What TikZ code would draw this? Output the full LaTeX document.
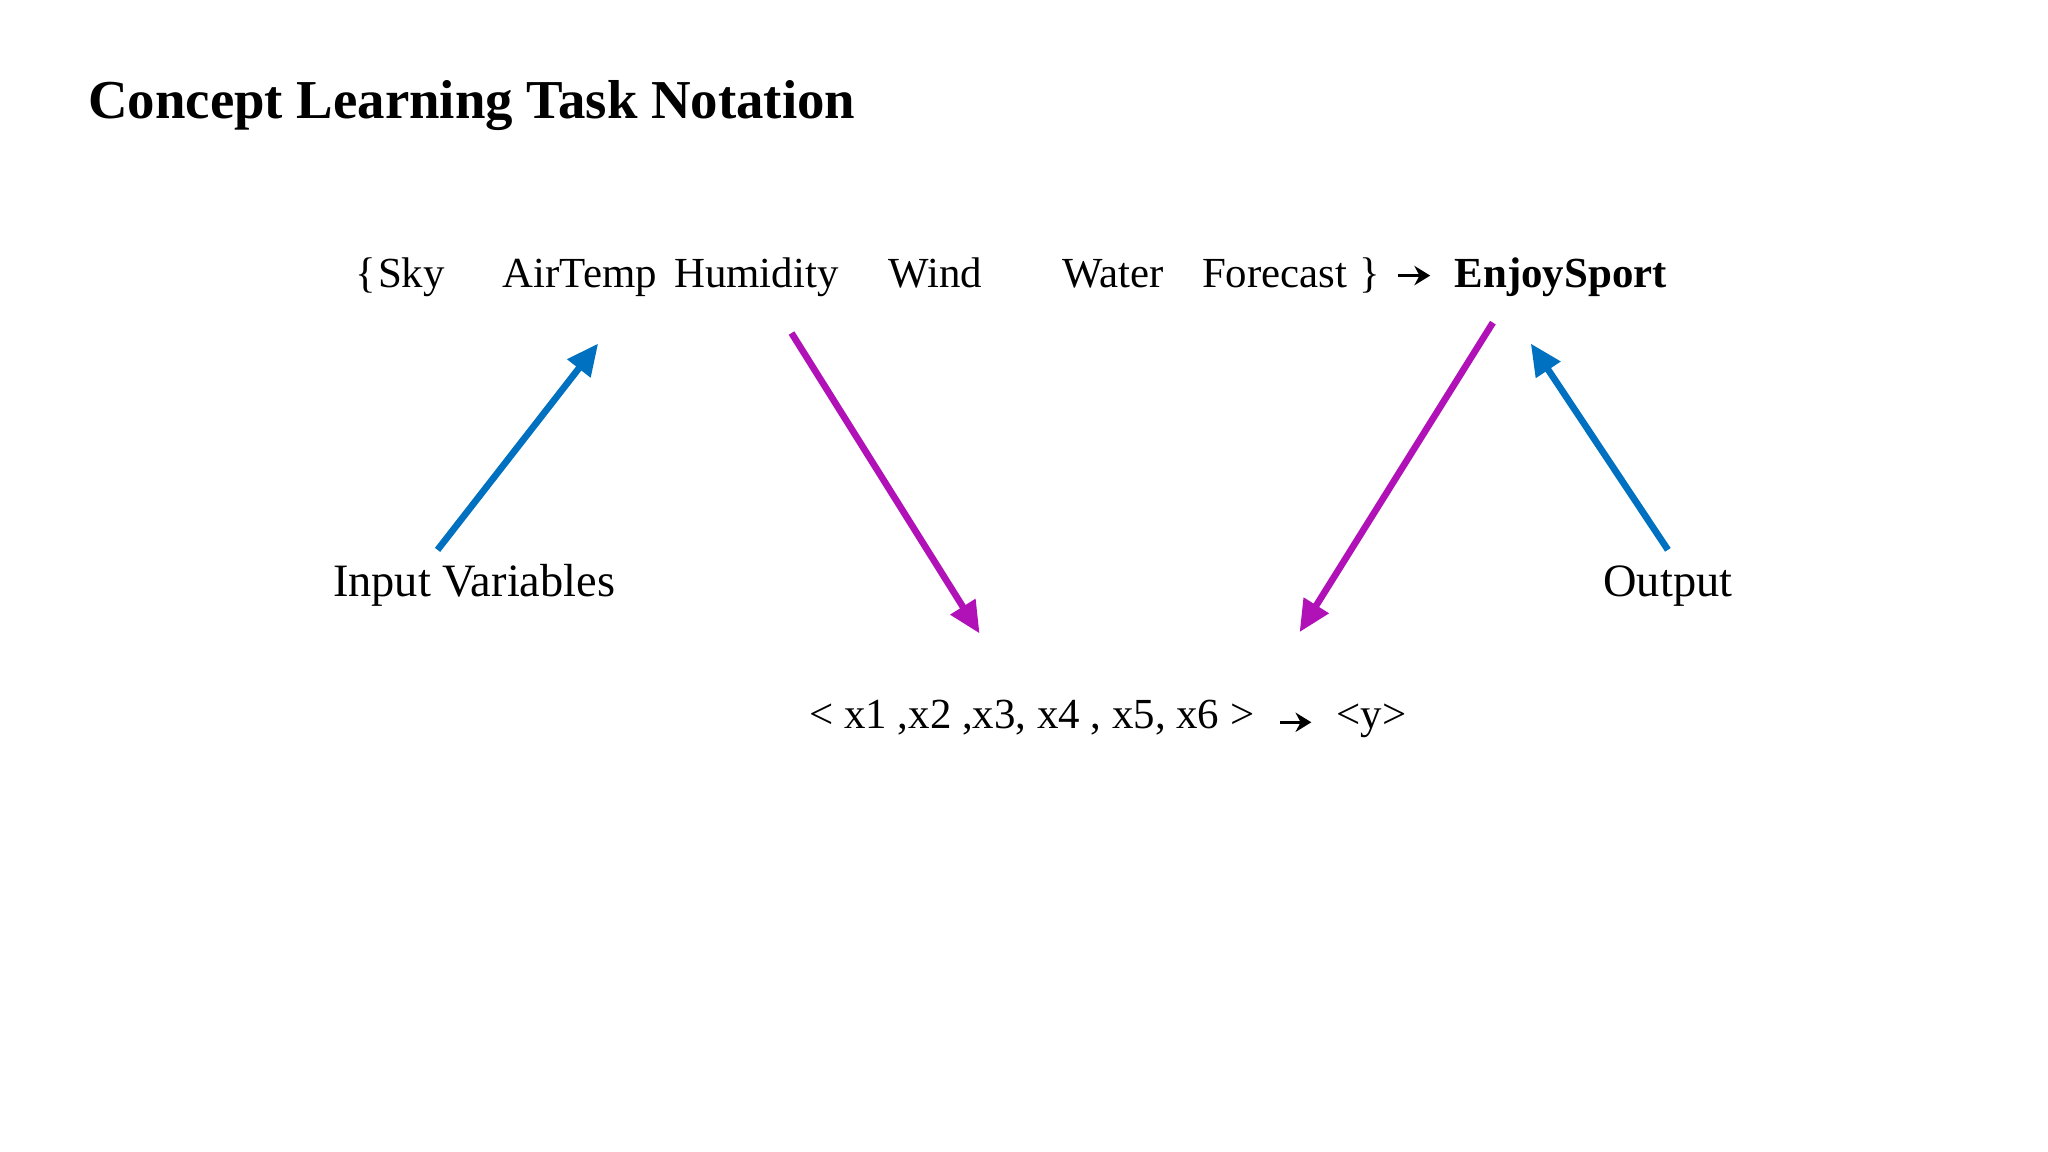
\documentclass[tikz,border=0pt]{standalone}
\usepackage{fontspec}
\setmainfont{Liberation Serif}
\usetikzlibrary{arrows.meta}
\definecolor{ablue}{HTML}{0070C0}
\definecolor{amag}{HTML}{B012B8}
\begin{document}
\begin{tikzpicture}[x=0.01306cm,y=-0.01306cm,
  txt/.style={inner sep=0pt,anchor=base,font=\fontsize{12.2}{14}\selectfont},
  arr/.style={line width=1.9pt,-{Triangle[length=9pt,width=8pt]}},
  sarr/.style={line width=0.9pt,-{Stealth[length=4.5pt,width=5.5pt]}}]
\useasboundingbox (0,0) rectangle (1568,882);
\node[anchor=base west,inner sep=0pt,font=\fontsize{15.6}{18}\selectfont\bfseries] (title) at (67,91) {Concept Learning Task Notation};
\node[txt] (lb) at (280,220) {\{};
\node[txt] (sky) at (315,220) {Sky};
\node[txt] (air) at (444,220) {AirTemp};
\node[txt] (hum) at (579,220) {Humidity};
\node[txt] (wind) at (716,220) {Wind};
\node[txt] (water) at (852,220) {Water};
\node[txt] (fc) at (976,220) {Forecast};
\node[txt] (rb) at (1049,220) {\}};
\node[txt,font=\fontsize{12.2}{14}\selectfont\bfseries] (es) at (1195,220) {EnjoySport};
\coordinate (a1) at (1070,211); \coordinate (a2) at (1095,211);
\draw[sarr] (a1) -- (a2);
\node[txt,font=\fontsize{13.2}{15}\selectfont] (iv) at (363,457) {Input Variables};
\node[txt,font=\fontsize{13.2}{15}\selectfont] (out) at (1277,457) {Output};
\node[txt] (xs) at (790,558) {< x1 ,x2 ,x3, x4 , x5, x6 >};
\node[txt] (y) at (1050,558) {<y>};
\coordinate (b1) at (980,553); \coordinate (b2) at (1004,553);
\draw[sarr] (b1) -- (b2);
\coordinate (p1) at (335,421); \coordinate (p2) at (458,263);
\coordinate (q1) at (606,255); \coordinate (q2) at (750,485);
\coordinate (r1) at (1143,247); \coordinate (r2) at (995,484);
\coordinate (s1) at (1277,421); \coordinate (s2) at (1172,263);
\draw[arr,ablue] (p1) -- (p2);
\draw[arr,amag] (q1) -- (q2);
\draw[arr,amag] (r1) -- (r2);
\draw[arr,ablue] (s1) -- (s2);
\end{tikzpicture}
\end{document}
